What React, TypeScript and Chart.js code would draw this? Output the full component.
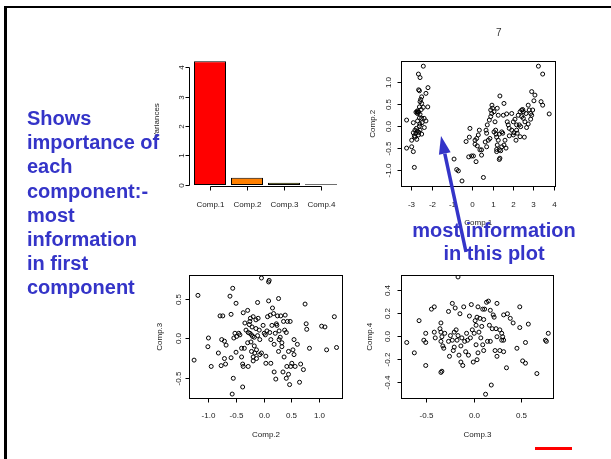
import React, { useEffect, useRef } from "react";
import { Chart, registerables } from "chart.js";

Chart.register(...registerables);

const W = 611;
const H = 459;

// ---------- Scree plot data ----------
const screeLabels = ["Comp.1", "Comp.2", "Comp.3", "Comp.4"];
const screeVariances = [4.23, 0.25, 0.08, 0.024];
const screeColors = ["#FF0000", "#FF8000", "#A0A000", "#5a5a00"];
const screeYTicks = [0, 1, 2, 3, 4];
const screeYMax = 4.4;

// ---------- Comp.1 vs Comp.2 ----------
const c12XTicks = [-3, -2, -1, 0, 1, 2, 3, 4];
const c12XLabels = ["-3", "-2", "-1", "0", "1", "2", "3", "4"];
const c12YTicks = [-1, -0.5, 0, 0.5, 1];
const c12YLabels = ["-1.0", "-0.5", "0.0", "0.5", "1.0"];
const c12XRange = [-3.5, 4.035];
const c12YRange = [-1.365, 1.477];
const scoresC1C2: [number, number][] = [
  [-2.43, 1.37], [-2.67, 1.19], [-2.59, 1.11], [-2.66, 0.83], [-2.62, 0.81], [-2.2, 0.88], [-2.3, 0.75],
  [-2.51, 0.67], [-2.56, 0.61], [-2.59, 0.56], [-2.51, 0.52], [-2.62, 0.44], [-2.43, 0.43], [-2.21, 0.44],
  [-2.72, 0.35], [-2.79, 0.32], [-2.66, 0.32], [-2.72, 0.29], [-2.59, 0.27], [-3.25, 0.14], [-2.62, 0.19],
  [-2.51, 0.18], [-2.39, 0.18], [-2.3, 0.12], [-2.71, 0.12], [-2.49, 0.08], [-2.92, 0.08], [-2.62, 0.0],
  [-2.84, -0.09], [-2.72, -0.11], [-2.59, -0.09], [-2.38, -0.03], [-2.92, -0.15], [-2.79, -0.16],
  [-2.67, -0.2], [-2.51, -0.18], [-2.84, -0.25], [-2.75, -0.3], [-3.0, -0.32], [-2.87, -0.22],
  [-3.25, -0.5], [-3.0, -0.47], [-2.92, -0.58], [-2.87, -0.94], [-2.68, 0.32], [-2.74, 0.33],
  [-2.77, -0.05], [-2.65, -0.14], [-2.53, 0.38], [-2.6, 0.05],
  [-0.92, -0.75], [-0.79, -0.99], [-0.71, -1.02], [-0.53, -1.25], [-0.33, -0.35], [-0.17, -0.25],
  [-0.2, -0.7], [-0.06, -0.68], [0.03, -0.68], [-0.14, -0.05], [0.11, -0.41], [0.11, -0.32], [0.19, -0.28],
  [0.22, -0.45], [0.27, -0.2], [0.32, -0.09], [0.35, -0.54], [0.43, -0.54], [0.43, -0.66], [0.16, -0.81],
  [0.52, -1.17], [0.61, -0.36], [0.65, -0.09], [0.68, -0.16], [0.68, -0.47], [0.71, 0.03], [0.76, -0.32],
  [0.84, -0.28], [0.81, 0.14], [0.88, 0.22], [0.93, 0.29], [0.88, 0.37], [0.97, 0.41], [0.94, 0.48],
  [1.04, 0.33], [1.09, 0.1], [1.04, -0.13], [1.12, -0.09], [1.14, -0.18], [1.17, -0.25], [1.17, -0.58],
  [1.17, -0.53], [1.2, -0.43], [1.25, 0.25], [1.25, -0.32], [1.3, -0.18], [1.3, -0.54], [1.3, -0.76],
  [1.33, -0.73], [1.37, -0.56], [1.42, -0.13], [1.42, -0.47], [1.47, -0.16], [1.33, 0.69], [1.2, 0.41],
  [1.5, 0.25], [1.53, 0.52], [1.53, -0.43], [1.58, -0.32], [1.63, -0.5], [1.66, 0.28], [1.69, 0.1],
  [1.74, 0.03], [1.79, -0.22], [1.91, 0.29], [1.99, 0.1], [2.02, -0.15], [2.07, 0.16], [2.15, 0.03],
  [2.18, -0.16], [2.23, 0.25], [2.28, 0.03], [2.32, 0.33], [2.32, -0.24], [2.4, 0.37], [2.4, 0.22],
  [2.45, 0.38], [2.48, 0.33], [2.48, 0.18], [2.56, 0.1], [2.61, 0.29], [2.35, -0.01], [2.53, -0.25],
  [2.72, 0.48], [2.77, 0.37], [2.84, 0.29], [2.84, 0.16], [2.89, 0.25], [2.94, 0.37], [3.0, 0.58],
  [2.89, 0.79], [3.05, 0.71], [3.35, 0.56], [1.91, -0.09], [1.99, -0.2], [2.12, -0.32], [2.72, 0.05],
  [2.64, -0.03], [1.79, -0.05], [2.15, -0.09], [3.43, 0.48], [3.22, 1.37], [3.43, 1.19], [3.75, 0.28],
];

// ---------- Comp.2 vs Comp.3 ----------
const c23XTicks = [-1, -0.5, 0, 0.5, 1];
const c23XLabels = ["-1.0", "-0.5", "0.0", "0.5", "1.0"];
const c23YTicks = [-0.5, 0, 0.5];
const c23YLabels = ["-0.5", "0.0", "0.5"];
const c23XRange = [-1.353, 1.418];
const c23YRange = [-0.756, 0.808];
const scoresC2C3: [number, number][] = [
  [-1.2, 0.55], [-1.27, -0.27], [-1.01, 0.01], [-1.02, -0.1], [-0.96, -0.35], [-0.83, -0.18], [-0.8, 0.29],
  [-0.75, 0.29], [-0.77, -0.01], [-0.78, -0.34], [-0.72, -0.25], [-0.72, -0.03], [-0.7, -0.32], [-0.69, -0.08],
  [-0.62, 0.54], [-0.6, 0.31], [-0.6, -0.24], [-0.57, 0.64], [-0.56, -0.5], [-0.58, -0.7], [-0.53, 0.07],
  [-0.51, 0.45], [-0.55, 0.01], [-0.5, 0.03], [-0.51, -0.17], [-0.44, 0.05], [-0.41, -0.12], [-0.41, -0.23],
  [-0.39, -0.61], [-0.38, 0.33], [-0.39, -0.32], [-0.38, -0.35], [-0.35, 0.2], [-0.33, 0.11], [-0.3, 0.36],
  [-0.29, 0.08], [-0.27, 0.18], [-0.29, -0.35], [-0.26, 0.22], [-0.26, 0.07], [-0.24, -0.04], [-0.23, 0.05],
  [-0.23, -0.16], [-0.21, 0.03], [-0.2, 0.28], [-0.2, -0.23], [-0.18, -0.09], [-0.17, -0.18], [-0.15, 0.24],
  [-0.15, 0.13], [-0.14, -0.14], [-0.14, -0.25], [-0.12, 0.46], [-0.11, 0.26], [-0.09, 0.11], [-0.08, -0.01],
  [-0.08, -0.2], [-0.05, 0.77], [-0.02, 0.17], [0.0, 0.07], [0.02, 0.05], [0.03, -0.31], [0.05, 0.1],
  [0.06, 0.28], [0.08, 0.72], [0.09, 0.74], [0.08, 0.48], [0.11, 0.3], [0.12, -0.01], [0.12, -0.31],
  [0.14, 0.17], [0.15, 0.39], [0.17, 0.32], [0.18, -0.07], [0.18, -0.42], [0.2, 0.07], [0.21, -0.51],
  [0.23, 0.17], [0.24, 0.29], [0.26, 0.51], [0.26, -0.16], [0.27, 0.1], [0.27, -0.01], [0.29, 0.02],
  [0.3, 0.29], [0.32, -0.1], [0.34, -0.42], [0.35, 0.22], [0.36, -0.23], [0.37, 0.11], [0.38, 0.3],
  [0.4, -0.5], [0.41, -0.35], [0.42, 0.22], [0.44, -0.16], [0.44, -0.45], [0.46, -0.58], [0.47, 0.22],
  [0.48, -0.35], [0.5, -0.31], [0.52, -0.14], [0.54, -0.01], [0.54, -0.2], [0.56, -0.35], [0.6, -0.07],
  [0.64, -0.55], [0.66, -0.32], [0.71, -0.39], [0.74, 0.44], [0.76, 0.19], [0.77, 0.12], [0.82, -0.12],
  [1.04, 0.16], [1.1, 0.15], [1.13, -0.14], [1.27, 0.28], [1.31, -0.11], [-0.22, 0.15], [-0.18, 0.02],
  [-0.12, 0.04], [-0.3, -0.05], [-0.05, -0.18], [0.03, -0.22], [0.1, 0.08], [-0.2, -0.28], [-0.36, -0.12],
  [-0.46, 0.07], [-0.25, 0.26], [0.22, 0.19], [0.32, -0.05], [0.4, 0.08],
];

// ---------- Comp.3 vs Comp.4 ----------
const c34XTicks = [-0.5, 0, 0.5];
const c34XLabels = ["-0.5", "0.0", "0.5"];
const c34YTicks = [-0.4, -0.2, 0, 0.2, 0.4];
const c34YLabels = ["-0.4", "-0.2", "0.0", "0.2", "0.4"];
const c34XRange = [-0.765, 0.835];
const c34YRange = [-0.537, 0.537];
const scoresC3C4: [number, number][] = [
  [-0.71, -0.05], [-0.63, -0.14], [-0.58, 0.14], [-0.53, -0.03], [-0.51, 0.03], [-0.51, -0.05], [-0.51, -0.25],
  [-0.45, 0.24], [-0.42, 0.26], [-0.42, 0.04], [-0.41, -0.01], [-0.35, 0.12], [-0.36, 0.07], [-0.35, 0.04],
  [-0.34, 0.0], [-0.35, -0.04], [-0.33, -0.08], [-0.32, -0.1], [-0.35, -0.31], [-0.34, -0.3], [-0.31, 0.03],
  [-0.27, -0.04], [-0.27, 0.22], [-0.26, -0.17], [-0.25, 0.01], [-0.23, -0.03], [-0.23, 0.29], [-0.22, -0.12],
  [-0.21, 0.04], [-0.21, -0.09], [-0.2, 0.25], [-0.19, 0.06], [-0.18, -0.03], [-0.17, 0.52], [-0.17, 0.01],
  [-0.16, -0.16], [-0.15, 0.2], [-0.14, -0.08], [-0.14, -0.22], [-0.13, -0.01], [-0.12, -0.25], [-0.11, 0.26],
  [-0.1, -0.04], [-0.09, -0.13], [-0.08, 0.03], [-0.07, -0.03], [-0.06, -0.16], [-0.05, 0.18], [-0.04, -0.01],
  [-0.03, 0.28], [-0.02, 0.06], [-0.01, -0.22], [0.0, 0.03], [0.01, 0.14], [0.02, 0.1], [0.02, -0.07],
  [0.03, 0.17], [0.03, -0.2], [0.04, 0.26], [0.04, -0.14], [0.05, 0.04], [0.06, 0.16], [0.07, -0.01],
  [0.08, 0.09], [0.09, 0.24], [0.09, -0.07], [0.1, 0.15], [0.1, -0.12], [0.11, 0.24], [0.12, -0.5],
  [0.13, 0.3], [0.14, -0.04], [0.15, 0.31], [0.16, 0.1], [0.17, -0.04], [0.17, 0.23], [0.18, -0.42],
  [0.19, 0.07], [0.2, 0.19], [0.21, 0.17], [0.22, -0.12], [0.23, 0.07], [0.24, 0.29], [0.24, -0.17],
  [0.24, 0.0], [0.27, -0.12], [0.27, 0.06], [0.29, 0.03], [0.3, 0.0], [0.31, -0.03], [0.31, -0.13],
  [0.31, 0.19], [0.34, -0.27], [0.35, 0.2], [0.38, 0.16], [0.41, 0.12], [0.45, -0.1], [0.48, 0.26],
  [0.48, 0.08], [0.51, -0.21], [0.54, -0.23], [0.54, -0.05], [0.57, 0.11], [0.75, -0.03], [0.76, -0.04],
  [0.78, 0.03], [0.66, -0.32], [0.29, -0.03],
];

// ---------- Slide text ----------
const leftTextLines = ["Shows", "importance of", "each", "component:-", "most", "information", "in first", "component"];
const rightTextLines = ["most information", "in this plot"];
const pageNumber = "7";

type AxisCfg = {
  box: boolean;
  xTicks: number[];
  xLabels: string[];
  xTitle: string;
  yTicks: number[];
  yLabels: string[];
  yTitle: string;
  xAxisOffset: number;
  yAxisOffset: number;
  tick: number;
  xLabelGap: number;
  xTitleGap: number;
  yLabelGap: number;
  yTitleGap: number;
};

const FONT = '8px "Liberation Sans", Arial, Helvetica, sans-serif';

function makeRAxes(cfg: AxisCfg) {
  return {
    id: "rAxes",
    afterDraw(chart: any) {
      const { ctx, chartArea: a } = chart;
      const xs = chart.scales.x;
      const ys = chart.scales.y;
      const snap = (v: number) => Math.floor(v) + 0.5;
      ctx.save();
      ctx.strokeStyle = "#000";
      ctx.fillStyle = "#1a1a1a";
      ctx.lineWidth = 1;
      ctx.font = FONT;
      if (cfg.box) {
        const l = snap(a.left), t = snap(a.top), r = snap(a.right), b = snap(a.bottom);
        ctx.strokeRect(l, t, r - l, b - t);
      }
      // x axis
      const ax = snap(a.bottom + cfg.xAxisOffset);
      const xp = cfg.xTicks.map((v) => snap(xs.getPixelForValue(v)));
      ctx.beginPath();
      ctx.moveTo(xp[0], ax);
      ctx.lineTo(xp[xp.length - 1], ax);
      xp.forEach((p) => {
        ctx.moveTo(p, ax);
        ctx.lineTo(p, ax + cfg.tick);
      });
      ctx.stroke();
      ctx.textAlign = "center";
      ctx.textBaseline = "middle";
      xp.forEach((p, i) => ctx.fillText(cfg.xLabels[i], p, ax + cfg.xLabelGap));
      if (cfg.xTitle) ctx.fillText(cfg.xTitle, (a.left + a.right) / 2, ax + cfg.xTitleGap);
      // y axis
      const ay = snap(a.left + cfg.yAxisOffset);
      const yp = cfg.yTicks.map((v) => snap(ys.getPixelForValue(v)));
      ctx.beginPath();
      ctx.moveTo(ay, yp[0]);
      ctx.lineTo(ay, yp[yp.length - 1]);
      yp.forEach((p) => {
        ctx.moveTo(ay, p);
        ctx.lineTo(ay - cfg.tick, p);
      });
      ctx.stroke();
      yp.forEach((p, i) => {
        ctx.save();
        ctx.translate(ay - cfg.yLabelGap, p);
        ctx.rotate(-Math.PI / 2);
        ctx.fillText(cfg.yLabels[i], 0, 0);
        ctx.restore();
      });
      if (cfg.yTitle) {
        ctx.save();
        ctx.translate(ay - cfg.yTitleGap, (a.top + a.bottom) / 2);
        ctx.rotate(-Math.PI / 2);
        ctx.fillText(cfg.yTitle, 0, 0);
        ctx.restore();
      }
      ctx.restore();
    },
  };
}

function pad(l: number, t: number, r: number, b: number) {
  return { left: l, top: t, right: W - r, bottom: H - b };
}

const baseOptions = (padding: any, xr: number[] | null, yr: number[]) => ({
  responsive: false,
  animation: false as const,
  devicePixelRatio: 1,
  layout: { padding },
  events: [] as any[],
  scales: {
    x: xr ? { type: "linear" as const, display: false, min: xr[0], max: xr[1] } : { display: false },
    y: { type: "linear" as const, display: false, min: yr[0], max: yr[1] },
  },
  plugins: { legend: { display: false }, tooltip: { enabled: false } },
});

function scatterConfig(points: [number, number][], padding: any, xr: number[], yr: number[], axes: AxisCfg): any {
  return {
    type: "scatter",
    data: {
      datasets: [
        {
          data: points.map(([x, y]) => ({ x, y })),
          pointRadius: 2,
          pointBorderWidth: 1,
          pointBorderColor: "#000",
          pointBackgroundColor: "rgba(0,0,0,0)",
          showLine: false,
        },
      ],
    },
    options: baseOptions(padding, xr, yr),
    plugins: [makeRAxes(axes)],
  };
}

function ChartCanvas({ config }: { config: () => any }) {
  const ref = useRef<HTMLCanvasElement | null>(null);
  useEffect(() => {
    if (!ref.current) return;
    const c = new Chart(ref.current, config());
    return () => c.destroy();
  }, []);
  return (
    <canvas
      ref={ref}
      width={W}
      height={H}
      style={{ position: "absolute", left: 0, top: 0, width: W, height: H }}
    />
  );
}

const screeConfig = (): any => ({
  type: "bar",
  data: {
    labels: screeLabels,
    datasets: [
      {
        data: screeVariances,
        backgroundColor: screeColors,
        borderColor: "#000",
        borderWidth: 1,
        borderSkipped: false,
        categoryPercentage: 1,
        barPercentage: 0.865,
      },
    ],
  },
  options: baseOptions(pad(191.5, 185 - screeYMax * 29.25, 339.5, 185), null, [0, screeYMax]),
  plugins: [
    makeRAxes({
      box: false,
      xTicks: screeLabels.map((_, i) => i),
      xLabels: screeLabels,
      xTitle: "",
      yTicks: screeYTicks,
      yLabels: screeYTicks.map(String),
      yTitle: "Variances",
      xAxisOffset: 1,
      yAxisOffset: -2,
      tick: 4,
      xLabelGap: 18,
      xTitleGap: 0,
      yLabelGap: 8,
      yTitleGap: 32.5,
    }),
  ],
});

const c12Config = () =>
  scatterConfig(scoresC1C2, pad(401.5, 61.5, 555, 186), c12XRange, c12YRange, {
    box: true,
    xTicks: c12XTicks,
    xLabels: c12XLabels,
    xTitle: "Comp.1",
    yTicks: c12YTicks,
    yLabels: c12YLabels,
    yTitle: "Comp.2",
    xAxisOffset: 0,
    yAxisOffset: 0,
    tick: 4,
    xLabelGap: 18,
    xTitleGap: 36.5,
    yLabelGap: 13,
    yTitleGap: 29,
  });

const c23Config = () =>
  scatterConfig(scoresC2C3, pad(189.5, 275, 342.5, 398.5), c23XRange, c23YRange, {
    box: true,
    xTicks: c23XTicks,
    xLabels: c23XLabels,
    xTitle: "Comp.2",
    yTicks: c23YTicks,
    yLabels: c23YLabels,
    yTitle: "Comp.3",
    xAxisOffset: 0,
    yAxisOffset: 0,
    tick: 4,
    xLabelGap: 17.5,
    xTitleGap: 36,
    yLabelGap: 11,
    yTitleGap: 29.5,
  });

const c34Config = () =>
  scatterConfig(scoresC3C4, pad(401.5, 275, 553.5, 398.5), c34XRange, c34YRange, {
    box: true,
    xTicks: c34XTicks,
    xLabels: c34XLabels,
    xTitle: "Comp.3",
    yTicks: c34YTicks,
    yLabels: c34YLabels,
    yTitle: "Comp.4",
    xAxisOffset: 0,
    yAxisOffset: 0,
    tick: 4,
    xLabelGap: 17.5,
    xTitleGap: 36.5,
    yLabelGap: 14,
    yTitleGap: 31.5,
  });

const BLUE = "#3434C8";
const TEXT_FONT = '"Liberation Sans", Arial, Helvetica, sans-serif';

export default function App() {
  // arrow geometry (annotation)
  const tip = { x: 441, y: 136 };
  const tail = { x: 466, y: 252 };
  const dx = tip.x - tail.x;
  const dy = tip.y - tail.y;
  const len = Math.hypot(dx, dy);
  const ux = dx / len;
  const uy = dy / len;
  const headLen = 18;
  const headHalf = 6;
  const bx = tip.x - ux * headLen;
  const by = tip.y - uy * headLen;
  const p1 = `${bx - uy * headHalf},${by + ux * headHalf}`;
  const p2 = `${bx + uy * headHalf},${by - ux * headHalf}`;

  return (
    <div
      style={{
        position: "absolute",
        left: 0,
        top: 0,
        width: W,
        height: H,
        overflow: "hidden",
        background: "#fff",
      }}
    >
      {/* slide frame */}
      <div style={{ position: "absolute", left: 4, top: 6, width: W - 4, height: 2, background: "#000" }} />
      <div style={{ position: "absolute", left: 4, top: 6, width: 3, height: H - 6, background: "#000" }} />

      <ChartCanvas config={screeConfig} />
      <ChartCanvas config={c12Config} />
      <ChartCanvas config={c23Config} />
      <ChartCanvas config={c34Config} />

      <svg width={W} height={H} style={{ position: "absolute", left: 0, top: 0 }}>
        <line x1={tail.x} y1={tail.y} x2={bx} y2={by} stroke={BLUE} strokeWidth={3.5} />
        <polygon points={`${tip.x},${tip.y} ${p1} ${p2}`} fill={BLUE} />
      </svg>

      <div
        style={{
          position: "absolute",
          left: 27,
          top: 106,
          font: `bold 20px ${TEXT_FONT}`,
          lineHeight: "24.2px",
          color: BLUE,
          whiteSpace: "nowrap",
        }}
      >
        {leftTextLines.map((l, i) => (
          <div key={i}>{l}</div>
        ))}
      </div>

      <div
        style={{
          position: "absolute",
          left: 394,
          width: 200,
          top: 218.5,
          font: `bold 20px ${TEXT_FONT}`,
          lineHeight: "23.7px",
          color: BLUE,
          textAlign: "center",
          whiteSpace: "nowrap",
        }}
      >
        {rightTextLines.map((l, i) => (
          <div key={i}>{l}</div>
        ))}
      </div>

      <div
        style={{
          position: "absolute",
          left: 496,
          top: 27,
          font: `10px ${TEXT_FONT}`,
          color: "#333",
        }}
      >
        {pageNumber}
      </div>

      <div style={{ position: "absolute", left: 535, top: 447, width: 37, height: 3, background: "#f00" }} />
    </div>
  );
}
